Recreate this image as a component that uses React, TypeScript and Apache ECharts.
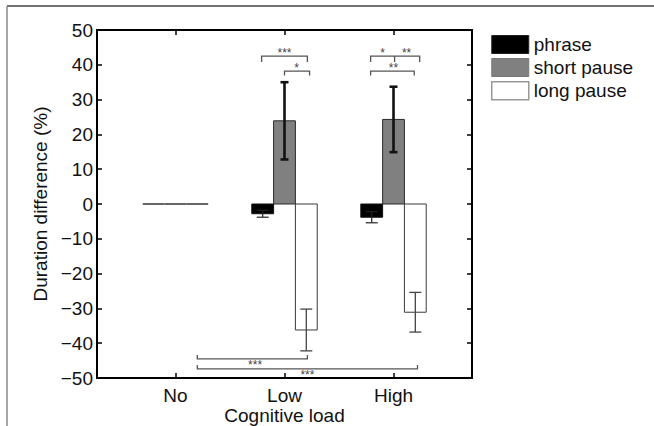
import React, { useEffect, useRef } from "react";
import * as echarts from "echarts";

// ---- data ----
const categories = ["No", "Low", "High"];
const categoryPos = [1, 2, 3];
const seriesNames = ["phrase", "short pause", "long pause"];
const phraseValues = [0, -2.8, -3.8];
const phraseErrors = [0, 1.0, 1.6];
const shortValues = [0, 23.9, 24.3];
const shortErrors = [0, 11.1, 9.4];
const longValues = [0, -36.2, -31.1];
const longErrors = [0, 6.0, 5.7];
const yTicks = [-50, -40, -30, -20, -10, 0, 10, 20, 30, 40, 50];

// significance brackets (data coordinates)
const bracketStart = [1.79, 2.0, 2.79, 2.79, 1.2, 1.2];
const bracketEnd = [2.21, 2.23, 3.24, 3.19, 2.21, 3.22];
const bracketLevel = [42.5, 38.2, 42.5, 38.2, -44.5, -47.4];
const bracketTip = [40.8, 36.9, 40.8, 36.9, -43.4, -46.3];
const bracketMid = [NaN, NaN, 3.01, NaN, NaN, NaN];
const bracketText = [["***"], ["*"], ["*", "**"], ["**"], ["***"], ["***"]];
const bracketTextX = [[2.0], [2.11], [2.9, 3.12], [3.0], [1.73], [2.21]];

const FONT = "'Liberation Sans', Arial, Helvetica, sans-serif";
const groupOffset = [-0.2, 0, 0.2];
const barHalf = 0.1;

const barFill = ["#000000", "#808080", "#ffffff"];
const barStroke = ["#111111", "#2a2a2a", "#3a3a3a"];
const errStroke = ["#222222", "#111111", "#444444"];
const errWidth = [1.2, 2.6, 1.3];
const capHalf = [6, 4, 6];

function makeBarSeries(idx: number, values: number[], errors: number[]) {
  return {
    type: "custom",
    name: seriesNames[idx],
    xAxisIndex: 0,
    yAxisIndex: 0,
    itemStyle: { color: barFill[idx], borderColor: barStroke[idx], borderWidth: 1 },
    encode: { x: 0, y: 1 },
    data: values.map((v, i) => [categoryPos[i], v, errors[i]]),
    renderItem: (params: any, api: any) => {
      const x = api.value(0) + groupOffset[idx];
      const y = api.value(1);
      const e = api.value(2);
      const p0 = api.coord([x - barHalf, 0]);
      const p1 = api.coord([x + barHalf, y]);
      const children: any[] = [];
      const h = Math.abs(p1[1] - p0[1]);
      if (h < 0.5) {
        children.push({
          type: "line",
          shape: { x1: p0[0], y1: p0[1], x2: p1[0], y2: p0[1] },
          style: { stroke: "#333", lineWidth: 1.5 },
        });
      } else {
        children.push({
          type: "rect",
          shape: { x: p0[0], y: Math.min(p0[1], p1[1]), width: p1[0] - p0[0], height: h },
          style: { fill: barFill[idx], stroke: barStroke[idx], lineWidth: 1 },
        });
      }
      if (e > 0) {
        const top = api.coord([x, y + e]);
        const bot = api.coord([x, y - e]);
        const st = { stroke: errStroke[idx], lineWidth: errWidth[idx] };
        children.push({ type: "line", shape: { x1: top[0], y1: top[1], x2: bot[0], y2: bot[1] }, style: st });
        children.push({ type: "line", shape: { x1: top[0] - capHalf[idx], y1: top[1], x2: top[0] + capHalf[idx], y2: top[1] }, style: st });
        children.push({ type: "line", shape: { x1: bot[0] - capHalf[idx], y1: bot[1], x2: bot[0] + capHalf[idx], y2: bot[1] }, style: st });
      }
      return { type: "group", children };
    },
  };
}

const bracketSeries = {
  type: "custom",
  name: "brackets",
  xAxisIndex: 0,
  yAxisIndex: 0,
  silent: true,
  itemStyle: { color: "#444" },
  encode: { x: 0, y: 1 },
  data: bracketStart.map((s, i) => [s, bracketLevel[i], i]),
  renderItem: (params: any, api: any) => {
    const i = api.value(2);
    const a = api.coord([bracketStart[i], bracketLevel[i]]);
    const b = api.coord([bracketEnd[i], bracketLevel[i]]);
    const ta = api.coord([bracketStart[i], bracketTip[i]]);
    const st = { stroke: "#555", lineWidth: 1.3, fill: "none" };
    const children: any[] = [
      {
        type: "polyline",
        shape: { points: [[a[0], ta[1]], [a[0], a[1]], [b[0], b[1]], [b[0], ta[1]]] },
        style: st,
      },
    ];
    if (!isNaN(bracketMid[i])) {
      const m = api.coord([bracketMid[i], bracketLevel[i]]);
      children.push({ type: "line", shape: { x1: m[0], y1: m[1], x2: m[0], y2: ta[1] }, style: st });
    }
    const above = bracketLevel[i] > 0;
    bracketText[i].forEach((t, k) => {
      const p = api.coord([bracketTextX[i][k], bracketLevel[i]]);
      children.push({
        type: "text",
        x: p[0],
        y: above ? p[1] - 3 : p[1] + 6,
        style: {
          text: t,
          fontSize: 12,
          fill: "#444",
          align: "center",
          verticalAlign: "middle",
          fontFamily: FONT,
        },
      });
    });
    return { type: "group", children };
  },
};

const minus = (v: number) => (v < 0 ? "\u2212" + Math.abs(v) : String(v));

export default function App() {
  const ref = useRef<HTMLDivElement>(null);
  useEffect(() => {
    if (!ref.current) return;
    const chart = echarts.init(ref.current, null, { renderer: "svg" });
    const axisLine = { show: true, onZero: false, lineStyle: { color: "#000", width: 2 } };
    const tickStyle = { color: "#000", width: 1.5 };
    chart.setOption({
      animation: false,
      backgroundColor: "#fff",
      grid: { left: 97, right: 182, top: 30, bottom: 48, containLabel: false, outerBoundsMode: "none" },
      legend: {
        orient: "vertical",
        left: 491,
        top: 35,
        padding: 0,
        itemWidth: 37,
        itemHeight: 18,
        itemGap: 4,
        icon: "rect",
        textStyle: { fontSize: 19, color: "#111", fontFamily: FONT },
        data: [
          { name: seriesNames[0], itemStyle: { color: "#000", borderColor: "#222", borderWidth: 1 } },
          { name: seriesNames[1], itemStyle: { color: "#808080", borderColor: "#777", borderWidth: 1 } },
          { name: seriesNames[2], itemStyle: { color: "#fff", borderColor: "#999", borderWidth: 1.5 } },
        ],
      },
      xAxis: [
        {
          type: "value",
          position: "bottom",
          min: 0.28,
          max: 3.72,
          axisLine,
          axisTick: { show: true, inside: true, length: 5, customValues: categoryPos, lineStyle: tickStyle },
          axisLabel: {
            show: true,
            customValues: categoryPos,
            formatter: (v: number) => categories[Math.round(v) - 1] ?? "",
            fontSize: 19,
            lineHeight: 19,
            color: "#111",
            fontFamily: FONT,
            margin: 8,
          },
          splitLine: { show: false },
          name: "Cognitive load",
          nameLocation: "middle",
          nameGap: 28,
          nameMoveOverlap: false,
          nameTextStyle: { fontSize: 19, lineHeight: 19, color: "#111", fontFamily: FONT },
        },
        {
          type: "value",
          position: "top",
          min: 0.28,
          max: 3.72,
          axisLine,
          axisTick: { show: true, inside: true, length: 5, customValues: categoryPos, lineStyle: tickStyle },
          axisLabel: { show: false },
          splitLine: { show: false },
        },
      ],
      yAxis: [
        {
          type: "value",
          position: "left",
          min: -50,
          max: 50,
          interval: 10,
          axisLine,
          axisTick: { show: true, inside: true, length: 5, customValues: yTicks, lineStyle: tickStyle },
          axisLabel: {
            formatter: minus,
            fontSize: 19,
            color: "#111",
            fontFamily: FONT,
            margin: 4,
          },
          splitLine: { show: false },
          name: "Duration difference (%)",
          nameLocation: "middle",
          nameGap: 47,
          nameRotate: 90,
          nameMoveOverlap: false,
          nameTextStyle: { fontSize: 19, color: "#111", fontFamily: FONT },
        },
        {
          type: "value",
          position: "right",
          min: -50,
          max: 50,
          interval: 10,
          axisLine,
          axisTick: { show: true, inside: true, length: 5, lineStyle: tickStyle },
          axisLabel: { show: false },
          splitLine: { show: false },
        },
      ],
      graphic: [
        { type: "line", shape: { x1: 7, y1: 6, x2: 654, y2: 6 }, style: { stroke: "#444", lineWidth: 1.5 } },
        { type: "line", shape: { x1: 7, y1: 6, x2: 7, y2: 426 }, style: { stroke: "#888", lineWidth: 1.5 } },
      ],
      series: [
        makeBarSeries(0, phraseValues, phraseErrors),
        makeBarSeries(1, shortValues, shortErrors),
        makeBarSeries(2, longValues, longErrors),
        bracketSeries,
      ],
    });
    return () => chart.dispose();
  }, []);
  return (
    <div
      ref={ref}
      style={{ position: "fixed", left: 0, top: 0, width: 654, height: 426, background: "#fff" }}
    />
  );
}
